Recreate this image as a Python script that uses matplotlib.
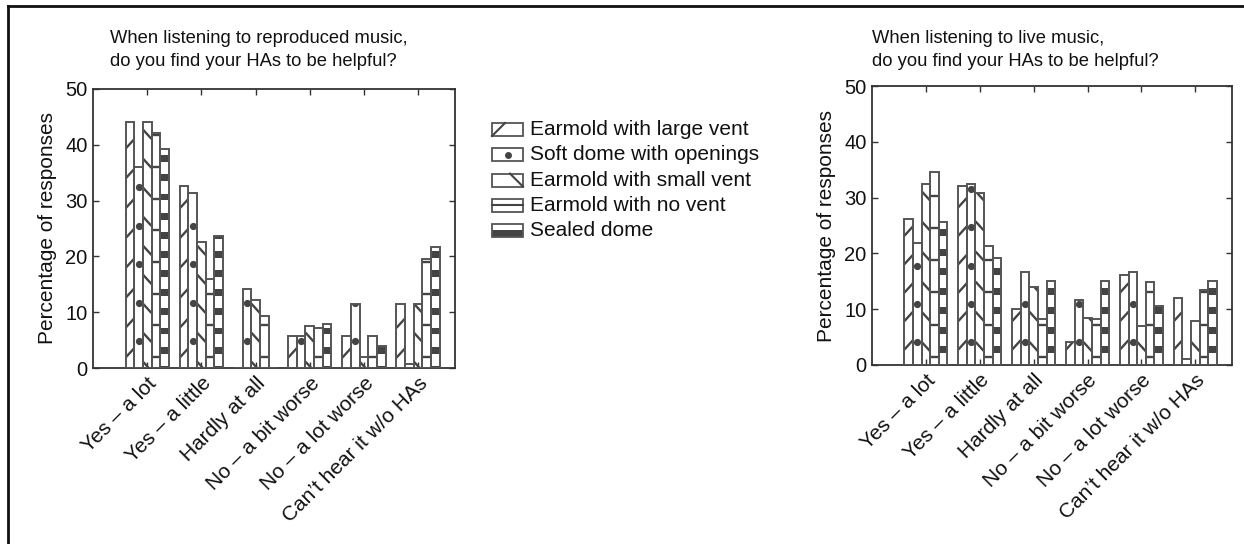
import numpy as np
import matplotlib
matplotlib.use("Agg")
import matplotlib.pyplot as plt
from matplotlib.patches import Rectangle
from matplotlib.collections import LineCollection, PatchCollection
from matplotlib.lines import Line2D

plt.rcParams['font.family'] = ['Liberation Sans', 'DejaVu Sans']

# ---- data ----
categories = ["Yes \u2013 a lot", "Yes \u2013 a little", "Hardly at all",
              "No \u2013 a bit worse", "No \u2013 a lot worse", "Can\u2019t hear it w/o HAs"]
series = ["Earmold with large vent", "Soft dome with openings",
          "Earmold with small vent", "Earmold with no vent", "Sealed dome"]

# reproduced music (left panel), one list per series
rep_large_vent = [44.1, 32.6, 0.0, 5.7, 5.7, 11.5]
rep_soft_dome = [36.1, 31.3, 14.2, 5.7, 11.4, 0.8]
rep_small_vent = [44.1, 22.6, 12.2, 7.6, 2.0, 11.5]
rep_no_vent = [42.1, 15.9, 9.4, 7.2, 5.7, 19.5]
rep_sealed = [39.2, 23.6, 0.0, 7.8, 3.9, 21.6]

# live music (right panel)
live_large_vent = [26.1, 32.0, 10.0, 4.1, 16.1, 12.0]
live_soft_dome = [21.9, 32.4, 16.7, 11.6, 16.7, 1.1]
live_small_vent = [32.4, 30.8, 14.0, 8.4, 7.0, 7.9]
live_no_vent = [34.6, 21.4, 8.2, 8.2, 14.8, 13.4]
live_sealed = [25.6, 19.2, 15.0, 15.0, 10.6, 15.0]

rep_title = "When listening to reproduced music,\ndo you find your HAs to be helpful?"
live_title = "When listening to live music,\ndo you find your HAs to be helpful?"

# ---- styling ----
EDGE = '#555555'
INK = '#444444'
kinds = ['fwd', 'dot', 'back', 'hline', 'band']
# spacing / phase of the fill patterns (in y data units)
pat_left = {'fwd': (5.35, 2.7), 'dot': (6.9, 4.8), 'back': (5.2, 0.3),
            'hline': (5.67, 2.0), 'band': (3.43, 3.2)}
pat_right = {'fwd': (5.1, 3.6), 'dot': (6.85, 4.1), 'back': (5.4, 3.3),
             'hline': (5.75, 1.5), 'band': (3.5, 2.7)}

W = 1244
H = 544
fig = plt.figure(figsize=(W / 100, H / 100), dpi=100)


def px_box(l, t, r, b):
    return [l / W, 1 - b / H, (r - l) / W, (b - t) / H]


def add_pattern(ax, bar, kind, spacing, phase):
    x0 = bar.get_x()
    w = bar.get_width()
    h = bar.get_height()
    if h <= 0:
        return
    ys = np.arange(phase - 2 * spacing, h + 2 * spacing, spacing)
    ys = ys[ys > -spacing]
    rise = 0.85
    if kind in ('fwd', 'back', 'hline'):
        if kind == 'fwd':
            segs = [[(x0, y - rise), (x0 + w, y + rise)] for y in ys]
        elif kind == 'back':
            segs = [[(x0, y + rise), (x0 + w, y - rise)] for y in ys]
        else:
            segs = [[(x0, y), (x0 + w, y)] for y in ys]
        lc = LineCollection(segs, colors=INK, linewidths=1.7, zorder=2)
        ax.add_collection(lc)
        lc.set_clip_path(bar)
    elif kind == 'dot':
        ys = ys[(ys > 0) & (ys < h + 0.5)]
        ln, = ax.plot(np.full(len(ys), x0 + w / 2), ys, 'o', ms=5.2,
                      color=INK, mec='none', zorder=2)
        ln.set_clip_path(bar)
    else:
        rects = [Rectangle((x0, y - 0.62), w, 1.24) for y in ys]
        pc = PatchCollection(rects, facecolor=INK, edgecolor='none', zorder=2)
        ax.add_collection(pc)
        pc.set_clip_path(bar)


def draw_panel(box, values, title, title_x, pat):
    ax = fig.add_axes(box)
    x = np.arange(1, len(categories) + 1)
    bw = 0.16
    for i, (vals, kind) in enumerate(zip(values, kinds)):
        xs = x + (i - 2) * bw
        bars = ax.bar(xs, vals, width=bw, color='white', edgecolor='none', zorder=1)
        for b in bars:
            add_pattern(ax, b, kind, *pat[kind])
        ax.bar(xs, vals, width=bw, fill=False, edgecolor=EDGE, linewidth=1.4, zorder=3)
    ax.set_xlim(0, 6.68)
    ax.set_ylim(0, 50)
    ax.set_yticks(np.arange(0, 51, 10))
    ax.set_xticks(x)
    ax.set_xticklabels(categories, rotation=45, ha='right', va='top',
                       rotation_mode='anchor', fontsize=15)
    ax.tick_params(axis='y', labelsize=14.5)
    ax.tick_params(direction='in', top=True, right=True, length=4, width=1,
                   color='#333333', pad=4, labelcolor='#111111')
    for s in ax.spines.values():
        s.set_color('#333333')
        s.set_linewidth(1.3)
    ax.set_ylabel("Percentage of responses", fontsize=15, labelpad=6, color='#111111')
    fig.text(title_x / W, 1 - 30 / H, title, ha='left', va='top', fontsize=13.2,
             linespacing=1.45, color='#111111')
    return ax


draw_panel(px_box(93, 89, 455, 368),
           [rep_large_vent, rep_soft_dome, rep_small_vent, rep_no_vent, rep_sealed],
           rep_title, 110, pat_left)
draw_panel(px_box(872, 86, 1232, 365),
           [live_large_vent, live_soft_dome, live_small_vent, live_no_vent, live_sealed],
           live_title, 872, pat_right)

# ---- overlay for legend and frame (pixel coordinates) ----
ov = fig.add_axes([0, 0, 1, 1])
ov.set_xlim(0, W)
ov.set_ylim(H, 0)
ov.axis('off')
ov.patch.set_visible(False)

# figure frame (top and left edges)
ov.add_line(Line2D([8, W], [6, 6], color='#111111', lw=2))
ov.add_line(Line2D([8, 8], [6, H], color='#111111', lw=2))

bx0, bx1, bh = 492, 523, 13
for j, (name, kind) in enumerate(zip(series, kinds)):
    yc = 129.5 + j * 25.3
    top, bot = yc - bh / 2, yc + bh / 2
    if kind == 'band':
        ov.add_patch(Rectangle((bx0, yc - 1), bx1 - bx0, bot - yc + 1,
                               facecolor=INK, edgecolor='none'))
    ov.add_patch(Rectangle((bx0, top), bx1 - bx0, bh, fill=False,
                           edgecolor=EDGE, lw=1.3))
    if kind == 'fwd':
        ov.add_line(Line2D([bx0, bx0 + bh], [bot, top], color=INK, lw=1.5))
    elif kind == 'back':
        ov.add_line(Line2D([bx1 - bh, bx1], [top, bot], color=INK, lw=1.5))
    elif kind == 'hline':
        ov.add_line(Line2D([bx0, bx1], [yc, yc], color=INK, lw=1.5))
    elif kind == 'dot':
        ov.plot([(bx0 + bx1) / 2], [yc], 'o', ms=5, color=INK, mec='none')
    ov.text(bx1 + 7, yc, name, va='center', ha='left', fontsize=15, color='#111111')

fig.savefig("out.png", dpi=100)
